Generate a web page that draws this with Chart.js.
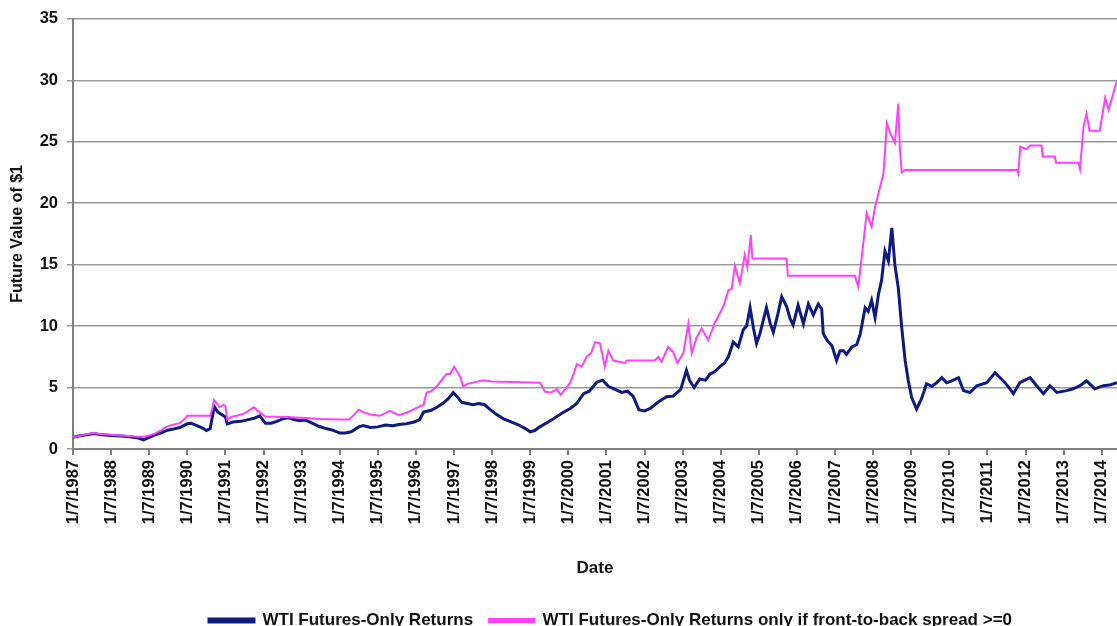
<!DOCTYPE html>
<html>
<head>
<meta charset="utf-8">
<script src="https://cdn.jsdelivr.net/npm/chart.js@4.4.1/dist/chart.umd.min.js"></script>
<style>
  html, body { margin: 0; padding: 0; background: #fff; overflow: hidden; }
  #wrap { width: 1117px; height: 626px; }
</style>
</head>
<body>
<div id="wrap"><canvas id="oilChart"></canvas></div>
<script>
// etiquetas del eje x (un tick por año)
const tickYears = [1987, 1988, 1989, 1990, 1991, 1992, 1993, 1994, 1995, 1996, 1997, 1998, 1999, 2000,
    2001, 2002, 2003, 2004, 2005, 2006, 2007, 2008, 2009, 2010, 2011, 2012, 2013, 2014];
const tickLabels = ['1/7/1987', '1/7/1988', '1/7/1989', '1/7/1990', '1/7/1991', '1/7/1992', '1/7/1993',
    '1/7/1994', '1/7/1995', '1/7/1996', '1/7/1997', '1/7/1998', '1/7/1999', '1/7/2000', '1/7/2001',
    '1/7/2002', '1/7/2003', '1/7/2004', '1/7/2005', '1/7/2006', '1/7/2007', '1/7/2008', '1/7/2009',
    '1/7/2010', '1/7/2011', '1/7/2012', '1/7/2013', '1/7/2014'];

// serie 1: WTI Futures-Only Returns (fecha en años, valor)
const wtiDates = [
    1987.00, 1987.15, 1987.35, 1987.55, 1987.75, 1988.00, 1988.25, 1988.50, 1988.70, 1988.85,
    1989.00, 1989.15, 1989.30, 1989.45, 1989.60, 1989.80, 1990.00, 1990.10, 1990.25, 1990.40,
    1990.50, 1990.60, 1990.68, 1990.72, 1990.80, 1990.90, 1991.00, 1991.05, 1991.20, 1991.40,
    1991.55, 1991.75, 1991.90, 1992.05, 1992.20, 1992.35, 1992.50, 1992.65, 1992.80, 1992.95,
    1993.10, 1993.25, 1993.45, 1993.60, 1993.80, 1994.00, 1994.15, 1994.30, 1994.50, 1994.62,
    1994.80, 1995.00, 1995.20, 1995.40, 1995.55, 1995.75, 1995.95, 1996.10, 1996.20, 1996.40,
    1996.55, 1996.70, 1996.85, 1996.98, 1997.10, 1997.20, 1997.35, 1997.50, 1997.65, 1997.80,
    1997.95, 1998.12, 1998.30, 1998.50, 1998.70, 1998.85, 1999.00, 1999.12, 1999.25, 1999.45,
    1999.65, 1999.85, 2000.05, 2000.22, 2000.40, 2000.55, 2000.75, 2000.90, 2001.05, 2001.20,
    2001.40, 2001.55, 2001.70, 2001.85, 2002.00, 2002.15, 2002.35, 2002.58, 2002.75, 2002.95,
    2003.10, 2003.18, 2003.30, 2003.45, 2003.60, 2003.72, 2003.85, 2003.98, 2004.10, 2004.20,
    2004.33, 2004.46, 2004.59, 2004.68, 2004.77, 2004.86, 2004.94, 2005.03, 2005.20, 2005.30,
    2005.38, 2005.50, 2005.60, 2005.73, 2005.82, 2005.90, 2006.03, 2006.17, 2006.30, 2006.43,
    2006.56, 2006.65, 2006.69, 2006.80, 2006.92, 2007.04, 2007.13, 2007.22, 2007.30, 2007.44,
    2007.57, 2007.66, 2007.79, 2007.87, 2007.96, 2008.05, 2008.14, 2008.22, 2008.31, 2008.40,
    2008.49, 2008.57, 2008.66, 2008.75, 2008.84, 2008.92, 2009.01, 2009.14, 2009.27, 2009.40,
    2009.54, 2009.67, 2009.80, 2009.93, 2010.06, 2010.24, 2010.37, 2010.54, 2010.72, 2010.98,
    2011.20, 2011.33, 2011.46, 2011.59, 2011.68, 2011.85, 2012.12, 2012.29, 2012.47, 2012.64,
    2012.82, 2013.08, 2013.25, 2013.43, 2013.60, 2013.82, 2014.04, 2014.20, 2014.40];
const wtiValues = [
    0.95, 1.05, 1.15, 1.25, 1.15, 1.10, 1.05, 1.00, 0.90, 0.75,
    0.95, 1.15, 1.30, 1.50, 1.60, 1.75, 2.05, 2.10, 1.90, 1.70,
    1.50, 1.65, 3.00, 3.40, 3.00, 2.80, 2.60, 2.05, 2.20, 2.25,
    2.35, 2.50, 2.70, 2.10, 2.10, 2.25, 2.45, 2.55, 2.40, 2.30,
    2.35, 2.15, 1.85, 1.70, 1.55, 1.30, 1.30, 1.40, 1.80, 1.90,
    1.75, 1.80, 1.95, 1.90, 2.00, 2.05, 2.20, 2.40, 3.00, 3.15,
    3.40, 3.70, 4.10, 4.60, 4.20, 3.80, 3.70, 3.60, 3.70, 3.60,
    3.20, 2.80, 2.45, 2.20, 1.95, 1.70, 1.40, 1.50, 1.80, 2.15,
    2.55, 2.95, 3.30, 3.70, 4.50, 4.70, 5.45, 5.60, 5.10, 4.90,
    4.60, 4.70, 4.30, 3.20, 3.10, 3.30, 3.80, 4.25, 4.30, 4.85,
    6.40, 5.60, 5.00, 5.70, 5.60, 6.10, 6.30, 6.70, 7.00, 7.50,
    8.70, 8.30, 9.70, 10.00, 11.50, 9.80, 8.60, 9.40, 11.50, 10.20,
    9.50, 11.00, 12.40, 11.60, 10.60, 10.10, 11.70, 10.20, 11.80, 10.90,
    11.80, 11.40, 9.40, 8.80, 8.40, 7.20, 8.00, 8.00, 7.70, 8.30,
    8.50, 9.35, 11.50, 11.20, 12.10, 10.70, 12.60, 13.70, 16.10, 15.30,
    18.00, 15.00, 13.10, 9.90, 7.20, 5.60, 4.20, 3.25, 4.10, 5.30,
    5.10, 5.40, 5.80, 5.40, 5.55, 5.80, 4.75, 4.60, 5.15, 5.40,
    6.20, 5.80, 5.40, 4.90, 4.50, 5.40, 5.80, 5.15, 4.50, 5.15,
    4.60, 4.75, 4.90, 5.15, 5.55, 4.90, 5.15, 5.20, 5.40];

// serie 2: WTI Futures-Only Returns only if front-to-back spread >= 0
const spreadDates = [
    1987.00, 1987.15, 1987.35, 1987.55, 1987.75, 1988.00, 1988.25, 1988.50, 1988.70, 1988.85,
    1989.00, 1989.15, 1989.30, 1989.45, 1989.60, 1989.80, 1989.95, 1990.00, 1990.60, 1990.66,
    1990.70, 1990.78, 1990.85, 1990.95, 1991.00, 1991.05, 1991.15, 1991.30, 1991.50, 1991.75,
    1991.85, 1992.05, 1992.50, 1993.00, 1993.50, 1994.00, 1994.25, 1994.35, 1994.50, 1994.62,
    1994.80, 1995.05, 1995.32, 1995.55, 1995.76, 1996.06, 1996.20, 1996.28, 1996.40, 1996.55,
    1996.70, 1996.80, 1996.90, 1997.00, 1997.10, 1997.16, 1997.24, 1997.35, 1997.50, 1997.77,
    1998.00, 1999.26, 1999.39, 1999.55, 1999.70, 1999.80, 1999.95, 2000.05, 2000.15, 2000.22,
    2000.35, 2000.48, 2000.60, 2000.70, 2000.83, 2000.96, 2001.05, 2001.18, 2001.49, 2001.53,
    2002.27, 2002.36, 2002.45, 2002.62, 2002.75, 2002.86, 2003.02, 2003.15, 2003.24, 2003.37,
    2003.50, 2003.67, 2003.85, 2004.07, 2004.20, 2004.29, 2004.37, 2004.50, 2004.63, 2004.70,
    2004.79, 2004.83, 2005.73, 2005.76, 2007.52, 2007.61, 2007.70, 2007.83, 2007.96, 2008.05,
    2008.18, 2008.27, 2008.36, 2008.45, 2008.57, 2008.66, 2008.70, 2008.75, 2008.84, 2011.77,
    2011.81, 2011.86, 2012.03, 2012.12, 2012.42, 2012.45, 2012.77, 2012.80, 2013.39, 2013.43,
    2013.52, 2013.60, 2013.68, 2013.95, 2014.09, 2014.18, 2014.30, 2014.40];
const spreadValues = [
    0.95, 1.05, 1.20, 1.30, 1.20, 1.15, 1.10, 1.05, 1.00, 1.00,
    1.10, 1.25, 1.50, 1.80, 1.95, 2.10, 2.50, 2.70, 2.70, 3.30,
    4.00, 3.70, 3.40, 3.60, 3.50, 2.40, 2.60, 2.70, 2.90, 3.40,
    3.10, 2.65, 2.60, 2.55, 2.45, 2.40, 2.40, 2.70, 3.20, 3.00,
    2.80, 2.70, 3.10, 2.75, 2.95, 3.40, 3.60, 4.60, 4.70, 5.10,
    5.70, 6.10, 6.10, 6.70, 6.20, 5.90, 5.10, 5.30, 5.40, 5.60,
    5.50, 5.40, 4.65, 4.60, 4.85, 4.40, 5.00, 5.40, 6.20, 6.90,
    6.70, 7.50, 7.80, 8.70, 8.60, 6.70, 8.00, 7.20, 7.00, 7.20,
    7.20, 7.50, 7.10, 8.30, 7.90, 7.00, 7.80, 10.20, 7.80, 9.10,
    9.80, 8.85, 10.30, 11.60, 12.90, 13.05, 14.90, 13.50, 15.80, 14.80,
    17.40, 15.50, 15.50, 14.10, 14.10, 13.20, 15.60, 19.20, 18.10, 19.70,
    21.30, 22.40, 26.50, 25.70, 24.90, 28.10, 24.60, 22.50, 22.70, 22.70,
    22.40, 24.60, 24.40, 24.70, 24.70, 23.80, 23.80, 23.30, 23.30, 22.80,
    26.20, 27.30, 25.90, 25.90, 28.60, 27.60, 28.90, 30.00];

// para juntar fechas y valores en puntos {x, y}
function toPoints(dates, values) {
    return dates.map((d, i) => ({ x: d, y: values[i] }));
}

const fuente = "'Liberation Sans', Arial, sans-serif";

// para mover la leyenda a donde esta en la imagen original
const moverLeyenda = {
    id: 'moverLeyenda',
    afterLayout(chart) {
        const lg = chart.legend;
        const dx = 52, dy = 13;
        lg.left += dx; lg.right += dx;
        lg.top += dy; lg.bottom += dy;
    }
};

const ctx = document.getElementById('oilChart');

new Chart(ctx, {
    type: 'line',
    data: {
        datasets: [
            {
                label: 'WTI Futures-Only Returns',
                data: toPoints(wtiDates, wtiValues),
                borderColor: '#0c1a82',
                backgroundColor: '#0c1a82',
                borderWidth: 3,
                pointRadius: 0,
                tension: 0,
                order: 2
            },
            {
                label: 'WTI Futures-Only Returns only if front-to-back spread >=0',
                data: toPoints(spreadDates, spreadValues),
                borderColor: '#ff40ff',
                backgroundColor: '#ff40ff',
                borderWidth: 2,
                pointRadius: 0,
                tension: 0,
                order: 1
            }
        ]
    },
    plugins: [moverLeyenda],
    options: {
        responsive: true,
        maintainAspectRatio: false,
        animation: false,
        layout: { padding: { top: 18, right: 0, left: 0, bottom: 0 } },
        plugins: {
            tooltip: { enabled: false },
            legend: {
                position: 'bottom',
                labels: {
                    font: { family: fuente, size: 17, weight: 'bold' },
                    color: '#111',
                    boxWidth: 45,
                    boxHeight: 3,
                    padding: 16,
                    sort: (a, b) => a.datasetIndex - b.datasetIndex
                }
            }
        },
        scales: {
            x: {
                type: 'linear',
                min: 1987,
                max: 2014.4,
                afterBuildTicks: axis => {
                    axis.ticks = tickYears.map(v => ({ value: v }));
                },
                afterFit: axis => {
                    axis.height = 134;
                    axis.paddingLeft = 0;
                    axis.paddingRight = 0;
                },
                ticks: {
                    autoSkip: false,
                    minRotation: 90,
                    maxRotation: 90,
                    padding: 5,
                    color: '#111',
                    font: { family: fuente, size: 16.5, weight: 'bold' },
                    callback: (value) => {
                        const i = tickYears.indexOf(value);
                        return i >= 0 ? tickLabels[i] : '';
                    }
                },
                grid: {
                    drawOnChartArea: false,
                    drawTicks: true,
                    tickLength: 6,
                    color: '#808080',
                    lineWidth: 2
                },
                border: { color: '#808080', width: 2 },
                title: {
                    display: true,
                    text: 'Date',
                    color: '#111',
                    font: { family: fuente, size: 17, weight: 'bold' },
                    padding: { top: 30, bottom: 4 }
                }
            },
            y: {
                min: 0,
                max: 35,
                afterFit: axis => {
                    axis.width = 73;
                },
                ticks: {
                    stepSize: 5,
                    padding: 9,
                    color: '#111',
                    font: { family: fuente, size: 16.5, weight: 'bold' }
                },
                grid: {
                    color: '#9a9a9a',
                    lineWidth: 1.5,
                    tickLength: 6
                },
                border: { color: '#808080', width: 2 },
                title: {
                    display: true,
                    text: 'Future Value of $1',
                    color: '#111',
                    font: { family: fuente, size: 16, weight: 'bold' },
                    padding: { top: 8, bottom: 10 }
                }
            }
        }
    }
});
</script>
</body>
</html>
